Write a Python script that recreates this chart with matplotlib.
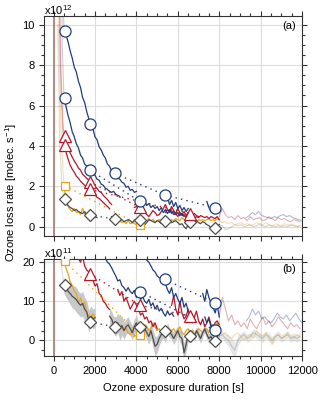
import numpy as np
import matplotlib.pyplot as plt
from matplotlib.ticker import MultipleLocator

plt.rcParams['font.family'] = ['Liberation Sans', 'DejaVu Sans']
plt.rcParams['font.size'] = 8
plt.rcParams['mathtext.fontset'] = 'custom'
plt.rcParams['mathtext.rm'] = 'Liberation Sans'

BLUE = '#1f3d7a'
RED = '#b2182b'
ORANGE = '#e8a31c'
GRAY = '#4d4d4d'
BROWN = '#ad8376'

# ---------------- panel (a), units of 1e12 molec. s-1 ----------------
# solid segments sampled every 100 s, given as (start time, values)
a_blue1_starts = [500, 5300, 7400]
a_blue1_seg1 = [9.75, 9.5, 9.15, 8.7, 8.35, 7.9, 7.65, 7.2, 6.9, 6.4, 6.15, 5.7, 5.35, 5.05, 4.85, 4.45,
                4.3, 3.95, 3.8, 3.55, 3.4, 3.1, 3.0, 2.75, 2.65, 2.6, 2.4, 2.35, 2.2, 2.15, 1.95, 2.0,
                1.8, 1.85, 1.7, 1.75]
a_blue1_seg2 = [1.55, 1.3, 1.45, 1.1, 1.3, 1.0, 1.2, 0.9, 1.05, 0.8, 0.95, 0.75, 0.9]
a_blue1_seg3 = [1.25, 0.95, 0.75, 0.9, 1.0, 0.8, 0.85]
a_blue1_mt = [530, 1740, 2950, 5370, 7790]
a_blue1_mv = [9.7, 5.07, 2.64, 1.57, 0.94]

a_blue2_starts = [500, 4100]
a_blue2_seg1 = [6.4, 5.95, 5.5, 5.15, 4.7, 4.45, 4.1, 3.9, 3.55, 3.4, 3.1, 3.0, 2.85, 2.8, 2.6, 2.55,
                2.35, 2.3, 2.1, 2.05, 1.9, 1.85, 1.75, 1.7, 1.75, 1.6, 1.55, 1.5]
a_blue2_seg2 = [1.3, 1.25, 1.2, 1.25, 1.05, 1.15, 0.95, 1.05, 0.9, 1.0, 0.8, 0.95, 0.7, 0.85, 0.65,
                0.85, 0.65, 0.75, 0.6, 0.7, 0.55, 0.65, 0.5]
a_blue2_mt = [530, 1740, 4160]
a_blue2_mv = [6.39, 2.8, 1.27]

a_red1_starts = [500, 3900]
a_red1_seg1 = [4.5, 4.15, 3.9, 3.65, 3.45, 3.25, 3.1, 2.9, 2.8, 2.6, 2.5, 2.4, 2.3, 2.2, 2.15, 1.95,
               1.9, 1.75, 1.7, 1.55, 1.45, 1.35, 1.2, 1.1]
a_red1_seg2 = [0.95, 1.0, 0.96, 0.85, 0.7, 0.75, 0.6, 0.5, 0.65, 0.8, 0.7, 0.55, 0.6, 0.75, 0.9, 1.1,
               0.85, 0.7, 0.8, 0.6, 0.65, 0.5, 0.7, 0.55, 0.6, 0.45, 0.55, 0.5, 0.6, 0.4, 0.5, 0.45,
               0.55, 0.5, 0.45, 0.5, 0.4, 0.5, 0.45, 0.4, 0.5, 0.35]
a_red1_mt = [530, 1740, 4160]
a_red1_mv = [4.49, 2.22, 0.96]

a_red2_starts = [500, 5400]
a_red2_seg1 = [4.05, 3.7, 3.35, 3.05, 2.85, 2.7, 2.5, 2.4, 2.25, 2.15, 2.05, 1.95, 1.9, 1.85, 1.7, 1.6,
               1.45, 1.4, 1.3, 1.2, 1.1, 1.0, 0.9]
a_red2_seg2 = [0.7, 0.85, 0.75, 1.0, 0.8, 0.65, 0.9, 0.7, 0.6, 0.75, 0.55, 0.7, 0.6, 0.5, 0.65, 0.55, 0.5]
a_red2_mt = [530, 1740, 6580]
a_red2_mv = [4.03, 1.85, 0.65]

a_orange_starts = [500, 3000]
a_orange_seg1 = [2.05, 1.3, 1.0, 0.85, 0.75, 0.9, 0.7, 0.75, 0.6, 0.9, 0.65, 0.6, 0.55, 0.7, 0.5, 0.45]
a_orange_seg2 = [0.45, 0.35, 0.3, 0.2, 0.25, 0.15, 0.3, 0.15, 0.2, 0.15, 0.1, 0.1, 0.08, 0.25, 0.35, 0.3,
                 0.4, 0.3, 0.35, 0.25, 0.3, 0.35, 0.3, 0.4, 0.35, 0.3, 0.25, 0.35, 0.3, 0.4, 0.35, 0.3,
                 0.45, 0.35, 0.3, 0.4, 0.3, 0.35, 0.3, 0.25, 0.35, 0.3, 0.35, 0.3, 0.35, 0.4, 0.3, 0.35,
                 0.3, 0.4, 0.35]
a_orange_mt = [530, 4160]
a_orange_mv = [2.03, 0.08]

a_gray_starts = [500, 2800]
a_gray_seg1 = [1.4, 1.2, 1.05, 0.95, 0.9, 0.8, 0.85, 0.75, 0.7, 0.65, 0.75, 0.6, 0.58, 0.55, 0.6, 0.5, 0.45]
a_gray_seg2 = [0.5, 0.4, 0.38, 0.45, 0.3, 0.35, 0.25, 0.3, 0.35, 0.3, 0.2, 0.33, 0.3, 0.25, 0.35, 0.3,
               0.1, 0.2, 0.35, 0.3, 0.25, 0.2, 0.3, 0.25, 0.15, 0.3, 0.2, 0.25, 0.3, 0.2, 0.25, 0.3,
               0.2, 0.1, 0.15, 0.0, -0.1, 0.1, 0.2, 0.25, 0.2, 0.3, 0.2, 0.15, 0.25, 0.2, 0.1, 0.05,
               -0.05, -0.1, 0.0, 0.05, 0.1]
a_gray_mt = [530, 1740, 2950, 4160, 5370, 6580, 7790]
a_gray_mv = [1.38, 0.58, 0.38, 0.33, 0.3, 0.25, -0.08]

# faded tails after 8000 s, sampled every 150 s
a_red_tail_start = 8000
a_red_tail = [0.5, 0.9, 0.6, 0.45, 0.5, 0.35, 0.55, 0.4, 0.45, 0.3, 0.5, 0.35, 0.4, 0.45, 0.3, 0.35,
              0.5, 0.4, 0.3, 0.45, 0.35, 0.4, 0.3, 0.25, 0.35, 0.3, 0.25]
a_blue_tail_start = 9300
a_blue_tail = [0.45, 0.55, 0.7, 0.6, 0.75, 0.55, 0.5, 0.45, 0.4, 0.5, 0.45, 0.55, 0.6, 0.5, 0.55, 0.45,
               0.4, 0.35, 0.3]
a_gray_tail_start = 8000
a_gray_tail = [0.1, 0.05, -0.15, -0.1, 0.0, 0.1, 0.05, 0.1, 0.0, 0.05, 0.1, 0.0, 0.05, 0.1, 0.05, 0.0,
               0.1, 0.05, 0.0, 0.05, 0.0, 0.05, 0.0, 0.1, 0.05, 0.0, 0.05]
a_orange_tail_start = 8000
a_orange_tail = [0.3, 0.2, 0.25, 0.15, 0.2, 0.1, 0.15, 0.2, 0.1, 0.15, 0.05, 0.1, 0.2, 0.15, 0.1, 0.2,
                 0.1, 0.0, 0.15, 0.1, 0.05, 0.15, 0.1, 0.05, 0.1, 0.0, 0.05]

# faded initial decay before the first marker
a_blue1_init_t = [400, 450, 500]
a_blue1_init_v = [20, 12, 9.75]
a_blue2_init_t = [350, 420, 500]
a_blue2_init_v = [20, 9, 6.4]
a_red1_init_t = [150, 250, 350, 450, 500]
a_red1_init_v = [30, 15, 8, 5.2, 4.5]
a_red2_init_t = [150, 250, 350, 450, 500]
a_red2_init_v = [25, 12, 7, 4.6, 4.05]
a_orange_init_t = [150, 250, 350, 450, 500]
a_orange_init_v = [20, 10, 5, 2.8, 2.05]
a_gray_init_t = [200, 300, 400, 500]
a_gray_init_v = [10, 4, 2, 1.4]

# ---------------- panel (b), units of 1e11 molec. s-1 ----------------
b_orange_starts = [500, 3000]
b_orange_seg1 = [20.3, 18.5, 17.0, 15.0, 14.0, 12.6, 12.0, 9.6, 10.8, 9.0, 9.8, 7.0, 6.5, 5.4, 6.8, 6.0]
b_orange_seg2 = [4.5, 3.5, 4.0, 3.0, 2.5, 3.2, 2.0, 1.5, 2.5, 1.0, 1.4, 1.2, 2.5, 3.0, 4.0, 3.5, 2.5,
                 3.0, 4.5, 3.5, 2.5, 3.0, 2.0, 2.5, 3.5, 3.0, 2.0, 2.5, 3.0, 2.0, 2.5, 3.5, 2.0, 1.5,
                 2.5, 3.0, 2.0, 2.5, 1.5, 2.0, 3.0, 2.5, 2.0, 2.5, 3.0, 2.0, 3.5, 2.5, 3.5, 4.5, 3.0]
b_orange_mt = [530, 4160]
b_orange_mv = [20.3, 1.4]

b_gray_starts = [500, 2700]
b_gray_seg1 = [14.1, 13.3, 12.6, 12.0, 11.3, 10.9, 10.4, 9.6, 9.0, 9.4, 8.0, 7.3, 5.0, 6.2, 5.5, 5.8]
b_gray_err1 = [2.0, 2.3, 2.5, 2.8, 3.0, 3.0, 3.2, 3.0, 3.0, 3.2, 3.0, 2.8, 2.8, 2.6, 2.5, 2.5]
b_gray_seg2 = [6.2, 5.5, 4.0, 3.5, 4.5, 3.0, 3.8, 2.5, 3.5, 4.0, 3.0, 2.0, 3.5, 4.5, 3.0, 2.5, 1.5,
               3.0, 2.0, 1.0, 2.5, 0.5, -1.5, -1.0, 0.5, 1.5, 2.0, 1.0, 3.0, 2.0, 1.5, 0.5, 1.5, 2.5,
               1.0, 0.5, -3.2, -1.0, 1.5, 1.1, 2.0, 1.0, 2.5, 1.5, 0.5, 2.0, 3.0, 1.5, 0.5, 1.0, -0.2,
               0.5, 1.0, 1.5]
b_gray_err2 = [2.0, 2.0, 2.2, 2.5, 2.5, 3.0, 2.5, 2.2, 2.0, 2.0, 1.8, 1.8, 2.0, 2.0, 1.8, 1.5, 1.5,
               1.5, 1.8, 2.0, 2.0, 2.2, 2.5, 2.2, 1.8, 1.5, 1.5, 1.5, 1.5, 1.2, 1.2, 1.5, 1.5, 1.2,
               1.5, 2.0, 2.5, 2.0, 1.5, 1.2, 1.2, 1.2, 1.0, 1.2, 1.2, 1.0, 1.0, 1.2, 1.2, 1.0, 1.2,
               1.0, 1.0, 1.0]
b_gray_mt = [530, 1740, 2950, 4160, 5370, 6580, 7790]
b_gray_mv = [14.1, 4.7, 3.5, 3.5, 2.5, 1.1, -0.2]

b_red_starts = [1100, 3100, 5700]
b_red_seg1 = [23, 21, 20, 21.5, 19, 18, 17.5, 16, 15.5, 13.9, 14.5, 12, 11.5, 10, 9.5, 8.5, 7.9]
b_red_seg2 = [13, 11.5, 12.5, 10, 11, 9.5, 8, 9, 10, 9.0, 8, 6.5, 7, 5.5, 6, 4.5, 5, 3.5, 4.5, 3.0]
b_red_seg3 = [9, 11.4, 8, 6.5, 10, 7, 5.5, 6.2, 8, 5, 4.5, 6, 7.5, 5, 4, 5.5, 3.5, 4.5, 6, 4, 3, 4.5, 5, 4]
b_red_mt = [1740, 4160, 6580]
b_red_mv = [17.1, 9.0, 6.2]

b_blue1_starts = [2300, 7300]
b_blue1_seg1 = [24, 22.5, 21, 20, 19.5, 18.6, 17.5, 16.5, 15.2, 15.5, 14, 13.5, 12.6, 13.5, 12.5, 12.0,
                12.8, 11.0, 11.8, 10.5, 11.2, 10.0, 9.5, 10.5, 8.8, 9.6, 8.0, 9.0, 7.5, 8.2, 7.0, 6.2,
                7.5, 6.5, 7.0, 6.2]
b_blue1_seg2 = [6.0, 4.5, 5.5, 3.5, 4.0, 2.6, 3.5, 3.0]
b_blue1_mt = [4160, 7790]
b_blue1_mv = [12.5, 2.6]

b_blue2_starts = [4400, 7200]
b_blue2_seg1 = [21.5, 20.5, 20, 19, 18, 17.5, 16.5, 16, 15.8, 15.6, 14.5, 13, 12, 13.5, 11, 12, 10.5,
                9.5, 11, 8.5, 9.5, 7.5]
b_blue2_seg2 = [12, 10, 13, 11, 9.6, 8.5, 7, 9, 6]
b_blue2_mt = [5370, 7790]
b_blue2_mv = [15.6, 9.6]

b_red_tail_start = 8000
b_red_tail = [6, 11, 8, 5, 6.5, 4, 5, 3.5, 4.5, 3, 5.5, 4, 3, 4.5, 6, 4, 5, 3.5, 4.5, 6, 5, 4, 3, 4.5,
              3.5, 4, 3]
b_blue_tail_start = 9300
b_blue_tail = [5, 6, 8, 6.5, 7.5, 5.5, 6, 5, 4.5, 5.5, 7, 6, 5.5, 6.5, 5, 6, 7, 5.5, 4.5]
b_gray_tail_start = 8000
b_gray_tail = [1.0, 1.5, 0.5, 0.0, -1.5, -2.5, 0.0, 1.0, 1.5, 0.5, 1.0, 2.0, 1.5, 1.0, 0.5, 1.5, 1.0,
               0.0, 1.0, 1.5, 0.5, 1.0, 1.5, 0.5, 1.0, 0.5, 1.0]
b_gray_tail_err = [1.0, 1.0, 1.2, 1.5, 2.0, 2.0, 1.5, 1.0, 1.0, 1.0, 1.0, 1.0, 1.0, 1.0, 1.0, 1.0, 1.0,
                   1.0, 1.0, 1.0, 1.0, 1.0, 1.0, 1.0, 1.0, 1.0, 1.0]
b_orange_tail_start = 8000
b_orange_tail = [2.5, 1.5, 2.0, 1.0, 0.5, 1.5, 2.0, 1.0, 0.0, 1.0, 1.5, 0.5, 2.5, 1.5, 1.0, 2.0, 0.5,
                 -1.0, 1.0, 1.5, 0.5, 1.0, 2.0, 1.0, 0.5, 1.5, 1.0]

b_orange_init_t = [150, 250, 350, 450, 500]
b_orange_init_v = [80, 50, 35, 25, 20.3]
b_gray_init_t = [200, 300, 400, 500]
b_gray_init_v = [40, 25, 18, 14.1]


def times(start, values, step=100):
    return start + step * np.arange(len(values))


def covered(t1, t2, starts, segs):
    # True when one continuous segment spans the whole interval between two markers
    for t0, vals in zip(starts, segs):
        if t0 <= t1 + 60 and t0 + 100 * (len(vals) - 1) >= t2 - 60:
            return True
    return False


def draw_series(ax, starts, segs, color, mt, mv, marker, ms):
    for t0, vals in zip(starts, segs):
        ax.plot(times(t0, vals), vals, color=color, lw=0.9, zorder=3)
    # dotted links between markers only where the record has a gap
    for i in range(len(mt) - 1):
        if not covered(mt[i], mt[i + 1], starts, segs):
            ax.plot(mt[i:i + 2], mv[i:i + 2], ls=(0, (1, 3)), color=color, lw=1.0, zorder=2)
    ax.plot(mt, mv, ls='none', marker=marker, mfc='white', mec=color, ms=ms, mew=0.9, zorder=5)


def faded(ax, t, v, color, alpha=0.35):
    ax.plot(t, v, color=color, lw=0.8, alpha=alpha, zorder=1)


def style_axes(ax, ylim, ymajor, yminor):
    ax.set_xlim(-455, 12000)
    ax.set_ylim(*ylim)
    ax.xaxis.set_major_locator(MultipleLocator(2000))
    ax.xaxis.set_minor_locator(MultipleLocator(500))
    ax.yaxis.set_major_locator(MultipleLocator(ymajor))
    ax.yaxis.set_minor_locator(MultipleLocator(yminor))
    ax.tick_params(which='both', direction='out', top=True, right=True, color='#333333', width=0.8)
    ax.tick_params(which='major', length=3.5)
    ax.tick_params(which='minor', length=2)
    ax.grid(True, which='major', color='#dcdcdc', lw=0.8, zorder=0)
    ax.set_axisbelow(True)
    for s in ax.spines.values():
        s.set_color('#333333')
        s.set_linewidth(0.8)
    ax.axvline(0, color=BROWN, lw=1.3, zorder=1)


fig = plt.figure(figsize=(3.2, 4.01), dpi=100)
ax_a = fig.add_axes([0.138, 0.412, 0.806, 0.549])
ax_b = fig.add_axes([0.138, 0.112, 0.806, 0.243])

# panel (a)
faded(ax_a, a_blue1_init_t, a_blue1_init_v, BLUE, 0.25)
faded(ax_a, a_blue2_init_t, a_blue2_init_v, BLUE, 0.25)
faded(ax_a, a_red1_init_t, a_red1_init_v, RED, 0.3)
faded(ax_a, a_red2_init_t, a_red2_init_v, RED, 0.3)
faded(ax_a, a_orange_init_t, a_orange_init_v, ORANGE, 0.35)
faded(ax_a, a_gray_init_t, a_gray_init_v, GRAY, 0.2)
faded(ax_a, times(a_red_tail_start, a_red_tail, 150), a_red_tail, RED)
faded(ax_a, times(a_blue_tail_start, a_blue_tail, 150), a_blue_tail, BLUE)
faded(ax_a, times(a_gray_tail_start, a_gray_tail, 150), a_gray_tail, GRAY, 0.25)
faded(ax_a, times(a_orange_tail_start, a_orange_tail, 150), a_orange_tail, ORANGE)

draw_series(ax_a, a_orange_starts, [a_orange_seg1, a_orange_seg2], ORANGE, a_orange_mt, a_orange_mv, 's', 6)
draw_series(ax_a, a_gray_starts, [a_gray_seg1, a_gray_seg2], GRAY, a_gray_mt, a_gray_mv, 'D', 6.5)
draw_series(ax_a, a_red1_starts, [a_red1_seg1, a_red1_seg2], RED, a_red1_mt, a_red1_mv, '^', 8.5)
draw_series(ax_a, a_red2_starts, [a_red2_seg1, a_red2_seg2], RED, a_red2_mt, a_red2_mv, '^', 8.5)
draw_series(ax_a, a_blue1_starts, [a_blue1_seg1, a_blue1_seg2, a_blue1_seg3], BLUE, a_blue1_mt, a_blue1_mv, 'o', 8)
draw_series(ax_a, a_blue2_starts, [a_blue2_seg1, a_blue2_seg2], BLUE, a_blue2_mt, a_blue2_mv, 'o', 8)

style_axes(ax_a, (-0.45, 10.45), 2, 0.5)
ax_a.tick_params(labelbottom=False)
ax_a.text(0.0, 1.004, r'x10$^{12}$', transform=ax_a.transAxes, ha='left', va='baseline', fontsize=8)
ax_a.text(0.975, 0.975, '(a)', transform=ax_a.transAxes, ha='right', va='top', fontsize=8)

# panel (b)
faded(ax_b, b_orange_init_t, b_orange_init_v, ORANGE, 0.35)
faded(ax_b, b_gray_init_t, b_gray_init_v, GRAY, 0.2)
t_tail = times(b_gray_tail_start, b_gray_tail, 150)
ax_b.fill_between(t_tail, np.array(b_gray_tail) - b_gray_tail_err, np.array(b_gray_tail) + b_gray_tail_err,
                  color='#bdbdbd', alpha=0.35, lw=0, zorder=1)
faded(ax_b, times(b_red_tail_start, b_red_tail, 150), b_red_tail, RED)
faded(ax_b, times(b_blue_tail_start, b_blue_tail, 150), b_blue_tail, BLUE)
faded(ax_b, t_tail, b_gray_tail, GRAY, 0.25)
faded(ax_b, times(b_orange_tail_start, b_orange_tail, 150), b_orange_tail, ORANGE)

for t0, vals, err in zip(b_gray_starts, [b_gray_seg1, b_gray_seg2], [b_gray_err1, b_gray_err2]):
    t = times(t0, vals)
    ax_b.fill_between(t, np.array(vals) - err, np.array(vals) + err, color='#c8c8c8', lw=0, zorder=2)

draw_series(ax_b, b_orange_starts, [b_orange_seg1, b_orange_seg2], ORANGE, b_orange_mt, b_orange_mv, 's', 6)
draw_series(ax_b, b_gray_starts, [b_gray_seg1, b_gray_seg2], GRAY, b_gray_mt, b_gray_mv, 'D', 6.5)
draw_series(ax_b, b_red_starts, [b_red_seg1, b_red_seg2, b_red_seg3], RED, b_red_mt, b_red_mv, '^', 8.5)
draw_series(ax_b, b_blue1_starts, [b_blue1_seg1, b_blue1_seg2], BLUE, b_blue1_mt, b_blue1_mv, 'o', 8)
draw_series(ax_b, b_blue2_starts, [b_blue2_seg1, b_blue2_seg2], BLUE, b_blue2_mt, b_blue2_mv, 'o', 8)

style_axes(ax_b, (-4, 20.9), 10, 2.5)
ax_b.text(0.0, 1.008, r'x10$^{11}$', transform=ax_b.transAxes, ha='left', va='baseline', fontsize=8)
ax_b.text(0.975, 0.95, '(b)', transform=ax_b.transAxes, ha='right', va='top', fontsize=8)
ax_b.set_xlabel('Ozone exposure duration [s]', fontsize=8, labelpad=5)

fig.text(0.035, 0.52, r'Ozone loss rate [molec. s$^{-1}$]', rotation=90, ha='center', va='center', fontsize=8)

fig.savefig('out.png', dpi=100)
